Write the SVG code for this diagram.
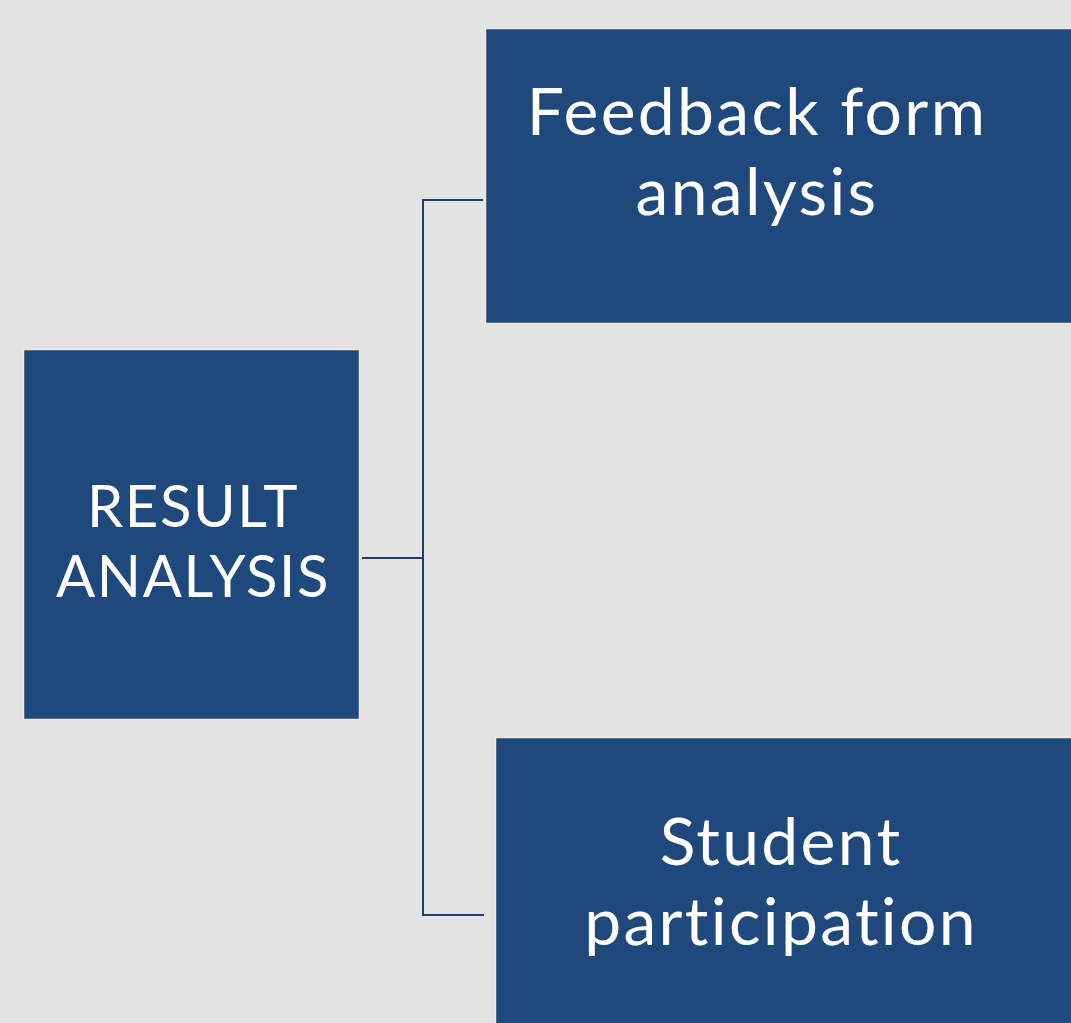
<svg xmlns="http://www.w3.org/2000/svg" width="1071" height="1023" viewBox="0 0 1071 1023">
<style>
.box{fill:#1f497d;stroke:#efe9d8;stroke-width:1.5}
.t{fill:#ffffff;font-family:Lato,"Open Sans",sans-serif;text-anchor:middle;font-variant-ligatures:none;font-feature-settings:"liga" 0}
.s{font-size:58px;letter-spacing:1.6px}
.b{font-size:66px;letter-spacing:2.3px}
.c{fill:none;stroke:#1f3f6b;stroke-width:2}
</style>
<rect width="1071" height="1023" fill="#e3e3e3"/>
<g id="connectors">
<path class="c" d="M362 558H423"/>
<path class="c" d="M483 200H423V915H484"/>
</g>
<g id="result">
<rect class="box" x="23.5" y="349.5" width="336" height="370"/>
<text class="t s" x="193" y="527">RESULT</text>
<text class="t s" x="193" y="597">ANALYSIS</text>
</g>
<g id="feedback">
<rect class="box" x="485.5" y="28.5" width="600" height="295"/>
<text class="t b" x="757" y="135">Feedback form</text>
<text class="t b" x="757" y="215">analysis</text>
</g>
<g id="student">
<rect class="box" x="495.5" y="737.5" width="600" height="300"/>
<text class="t b" x="781" y="865">Student</text>
<text class="t b" x="781" y="945">participation</text>
</g>
</svg>
